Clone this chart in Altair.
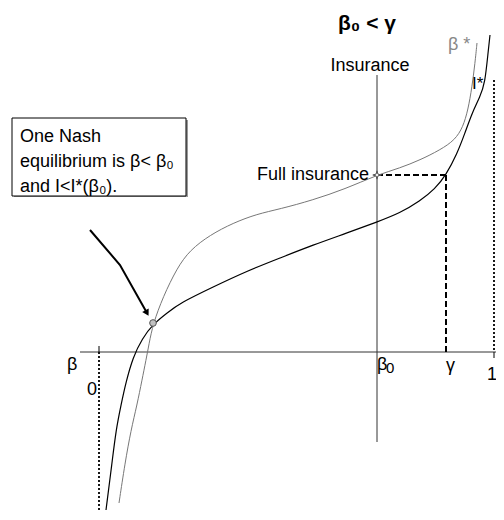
import altair as alt
import pandas as pd

# ---- curves (pixel-like diagram coordinates) ----
istar_x = [106, 112, 116, 121, 126, 133, 142, 153, 167, 180, 213, 247, 280, 313, 347, 377,
           400, 420, 435, 446, 457, 465, 472, 480, 485, 488, 490]
istar_y = [510, 463, 430, 405, 382, 357, 339, 324, 313, 303, 287, 271, 258, 245, 233, 222,
           213, 201, 189, 175, 154, 133, 113, 97, 83, 53, 35]

bstar_x = [119, 125, 131, 137, 142, 146, 149, 153, 163, 177, 190, 210, 233, 257, 280, 313, 345,
           377, 400, 420, 440, 455, 463, 468, 472, 475, 477]
bstar_y = [503, 463, 430, 405, 380, 360, 344, 324, 297, 268, 250, 235, 223, 214, 209, 200, 189,
           175, 168, 160, 150, 140, 127, 110, 87, 63, 43]

# ---- key levels of the diagram ----
axis_y = 352          # beta axis
beta0_x = 377         # insurance axis / beta_0
gamma_x = 446
one_x = 494
zero_x = 99
full_ins_y = 175
nash_x, nash_y = 153, 323

arrow_x = [90, 120, 147]
arrow_y = [230, 265, 313]

xs = alt.Scale(domain=[8, 496], nice=False, zero=False)
ys = alt.Scale(domain=[8, 512], nice=False, zero=False, reverse=True)


def enc_xy():
    return dict(x=alt.X("x:Q", scale=xs, axis=None), y=alt.Y("y:Q", scale=ys, axis=None))


def seg_layer(rows, **mark):
    df = pd.DataFrame(rows, columns=["x", "y", "x2", "y2"])
    return alt.Chart(df).mark_rule(**mark).encode(x2="x2:Q", y2="y2:Q", **enc_xy())


def text_layer(rows, **mark):
    df = pd.DataFrame(rows, columns=["x", "y", "t"])
    return alt.Chart(df).mark_text(font="Liberation Sans", **mark).encode(text="t:N", **enc_xy())


def curve(xv, yv, **mark):
    df = pd.DataFrame({"x": xv, "y": yv})
    return alt.Chart(df).mark_line(interpolate="basis", **mark).encode(**enc_xy())


axes = seg_layer([(80, axis_y, 496, axis_y), (beta0_x, 75, beta0_x, 442)],
                 color="#333333", strokeWidth=1)
dashed = seg_layer([(beta0_x, full_ins_y, gamma_x, full_ins_y),
                    (gamma_x, full_ins_y, gamma_x, axis_y)],
                   color="black", strokeWidth=2, strokeDash=[6, 3])
dotted = seg_layer([(one_x, 80, one_x, axis_y), (zero_x, axis_y, zero_x, 520)],
                   color="black", strokeWidth=1.8, strokeDash=[2, 2])
ticks = seg_layer([(one_x, axis_y, one_x, 358), (zero_x, 346, zero_x, axis_y)],
                  color="black", strokeWidth=1)

istar = curve(istar_x, istar_y, color="black", strokeWidth=1.2)
bstar = curve(bstar_x, bstar_y, color="#777777", strokeWidth=1)

arrow_df = pd.DataFrame({"x": arrow_x, "y": arrow_y, "o": [0, 1, 2]})
arrow = alt.Chart(arrow_df).mark_line(color="black", strokeWidth=2).encode(order="o:Q", **enc_xy())
head_df = pd.DataFrame({"x": [arrow_x[-1]], "y": [arrow_y[-1]]})
head = alt.Chart(head_df).mark_point(shape="triangle-up", filled=True, color="black",
                                     size=55, angle=151, opacity=1).encode(**enc_xy())

nash_df = pd.DataFrame({"x": [nash_x], "y": [nash_y]})
nash = alt.Chart(nash_df).mark_point(shape="circle", filled=True, fill="#c0c0c0",
                                     stroke="#555555", strokeWidth=1, size=45,
                                     opacity=1).encode(**enc_xy())

star_df = pd.DataFrame({"x": [beta0_x], "y": [full_ins_y]})
star = alt.Chart(star_df).mark_point(
    shape="M0,-1L0.22,-0.22L1,0L0.22,0.22L0,1L-0.22,0.22L-1,0L-0.22,-0.22Z",
    filled=True, fill="white", stroke="#555555", strokeWidth=1, size=70, opacity=1,
).encode(**enc_xy())

box_df = pd.DataFrame({"x": [12], "y": [118], "x2": [186], "y2": [196]})
shadow_df = pd.DataFrame({"x": [14], "y": [120], "x2": [188], "y2": [197]})
shadow = alt.Chart(shadow_df).mark_rect(fill="#999999").encode(x2="x2:Q", y2="y2:Q", **enc_xy())
box = alt.Chart(box_df).mark_rect(fill="white", stroke="black", strokeWidth=1).encode(
    x2="x2:Q", y2="y2:Q", **enc_xy())

box_text = text_layer([(20, 142, "One Nash"),
                       (20, 167, "equilibrium is β< β₀"),
                       (20, 192, "and I<I*(β₀).")],
                      align="left", baseline="alphabetic", fontSize=18, color="black")

title = text_layer([(367, 30, "β₀ < γ")], align="center", baseline="alphabetic",
                   fontSize=21, fontWeight="bold", color="black")
ins = text_layer([(370, 71, "Insurance")], align="center", baseline="alphabetic",
                 fontSize=18, color="black")
full = text_layer([(369, 180, "Full insurance")], align="right", baseline="alphabetic",
                  fontSize=18, color="black")
bstar_lab = text_layer([(448, 50, "β *")], align="left", baseline="alphabetic",
                       fontSize=18, color="#888888")
istar_lab = text_layer([(472, 89, "I*")], align="left", baseline="alphabetic",
                       fontSize=17, color="black")
axis_labs = text_layer([(67, 370, "β"), (87, 395, "0"), (377, 370, "β"),
                        (446, 371, "γ"), (487, 380, "1")],
                       align="left", baseline="alphabetic", fontSize=18, color="black")
sub0 = text_layer([(386, 373, "0")], align="left", baseline="alphabetic",
                  fontSize=15, color="black")

chart = alt.layer(
    axes, dashed, dotted, ticks, bstar, istar, arrow, head, nash, star,
    shadow, box, box_text, title, ins, full, bstar_lab, istar_lab, axis_labs, sub0,
).properties(
    width=488, height=504, padding=0, autosize=alt.AutoSizeParams(type="none"),
    background="white",
).configure_view(stroke=None)

chart.save("out.html", embed_options={"renderer": "svg", "actions": False})
